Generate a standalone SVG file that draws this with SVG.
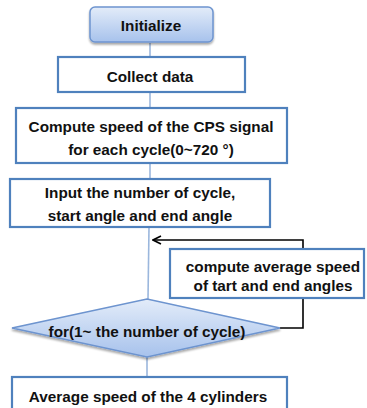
<svg xmlns="http://www.w3.org/2000/svg" width="367" height="408" viewBox="0 0 367 408">
  <defs>
    <linearGradient id="blueFill" x1="0" y1="0" x2="0" y2="1">
      <stop offset="0" stop-color="#e3ecf9"/>
      <stop offset="1" stop-color="#a7c2ec"/>
    </linearGradient>
    <filter id="soft" x="-10%" y="-10%" width="120%" height="130%">
      <feGaussianBlur in="SourceAlpha" stdDeviation="1.2"/>
      <feOffset dx="0" dy="1.5" result="b"/>
      <feComponentTransfer><feFuncA type="linear" slope="0.35"/></feComponentTransfer>
      <feMerge><feMergeNode/><feMergeNode in="SourceGraphic"/></feMerge>
    </filter>
    <marker id="arrowOpen" viewBox="0 0 10 10" refX="9" refY="5" markerWidth="10" markerHeight="10" markerUnits="userSpaceOnUse" orient="auto">
      <path d="M1,1 L9,5 L1,9" fill="none" stroke="#000" stroke-width="1.6"/>
    </marker>
  </defs>
  <style>
    .box { fill: #ffffff; stroke: #4f81bd; stroke-width: 2.2; }
    .term { fill: url(#blueFill); stroke: #6d94cf; stroke-width: 1.5; }
    .flow { stroke: #9bb7dd; stroke-width: 1.6; fill: none; }
    .loop { stroke: #000000; stroke-width: 1.6; fill: none; }
    text { font-family: "Liberation Sans", Arial, sans-serif; font-weight: bold; font-size: 15.3px; fill: #111; text-anchor: middle; }
  </style>

  <!-- connectors -->
  <g id="connectors">
    <line class="flow" x1="150" y1="43" x2="150" y2="57"/>
    <line class="flow" x1="150" y1="92" x2="150" y2="108"/>
    <line class="flow" x1="150" y1="163" x2="150" y2="179"/>
    <line class="flow" x1="149" y1="227" x2="148" y2="299"/>
    <line class="flow" x1="147" y1="357" x2="147" y2="377"/>
    <polyline class="loop" points="303,249 303,240 153,240" marker-end="url(#arrowOpen)"/>
    <polyline class="loop" points="280,328 303,328 303,298"/>
  </g>

  <g id="initialize">
    <rect class="term" x="90" y="7" width="123" height="35" rx="5" filter="url(#soft)"/>
    <text x="151" y="31">Initialize</text>
  </g>

  <g id="collect-data">
    <rect class="box" x="58" y="57" width="187" height="35"/>
    <text x="150" y="82">Collect data</text>
  </g>

  <g id="compute-speed">
    <rect class="box" x="16" y="108" width="271" height="55"/>
    <text x="151" y="132">Compute speed of the CPS signal</text>
    <text x="151" y="155">for each cycle(0~720 °)</text>
  </g>

  <g id="input-cycle">
    <rect class="box" x="10" y="179" width="260" height="48"/>
    <text x="140" y="198">Input the number of cycle,</text>
    <text x="140" y="221">start angle and end angle</text>
  </g>

  <g id="compute-average">
    <rect class="box" x="170" y="249" width="194" height="49"/>
    <text x="273" y="272">compute average speed</text>
    <text x="273" y="291">of tart and end angles</text>
  </g>

  <g id="for-loop">
    <polygon class="term" points="12,328 147,299 280,328 147,357" filter="url(#soft)"/>
    <text x="147" y="337">for(1~ the number of cycle)</text>
  </g>

  <g id="average-cylinders">
    <rect class="box" x="12" y="377" width="275" height="40"/>
    <text x="148" y="402">Average speed of the 4 cylinders</text>
  </g>
</svg>
